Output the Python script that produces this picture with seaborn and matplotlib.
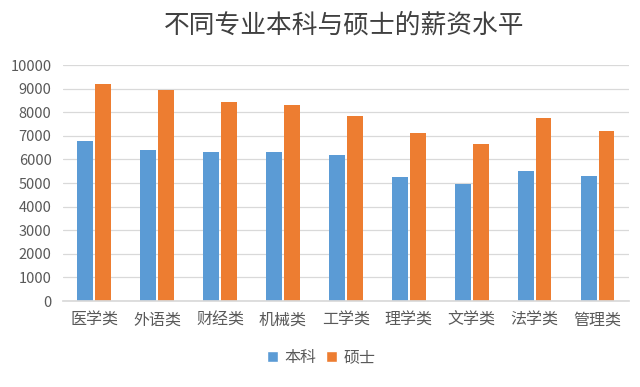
import matplotlib
matplotlib.use('Agg')
import matplotlib.pyplot as plt
import seaborn as sns
import pandas as pd
from matplotlib.patches import Patch

# data
majors = ['医学类', '外语类', '财经类', '机械类', '工学类', '理学类', '文学类', '法学类', '管理类']
bachelor = [6800, 6380, 6300, 6300, 6200, 5250, 4970, 5520, 5300]
master = [9200, 8950, 8420, 8320, 7860, 7120, 6670, 7750, 7190]
series = ['本科', '硕士']
colors = ['#5B9BD5', '#ED7D31']

df = pd.DataFrame({
    'major': majors * 2,
    'salary': bachelor + master,
    'degree': [series[0]] * len(majors) + [series[1]] * len(majors),
})

sns.set_theme(style='white')
plt.rcParams['font.family'] = ['Noto Sans CJK SC', 'DejaVu Sans']
text_color = '#595959'

fig = plt.figure(figsize=(6.4, 3.87), dpi=100)
ax = fig.add_axes([0.098, 0.222, 0.885, 0.61])

sns.barplot(data=df, x='major', y='salary', hue='degree', palette=colors,
            width=0.56, gap=0.1, saturation=1, linewidth=0, legend=False, ax=ax)

ax.set_ylim(0, 10000)
ax.set_yticks(range(0, 10001, 1000))
ax.grid(axis='y', color='#D9D9D9', linewidth=0.9)
ax.set_axisbelow(True)
for s in ['top', 'right', 'left']:
    ax.spines[s].set_visible(False)
ax.spines['bottom'].set_color('#D9D9D9')
ax.set_xlabel('')
ax.set_ylabel('')
ax.tick_params(axis='y', labelsize=10.5, colors=text_color, length=0, pad=8)
ax.tick_params(axis='x', labelsize=11.5, colors=text_color, length=0, pad=8)

fig.text(0.537, 0.935, '不同专业本科与硕士的薪资水平', ha='center', va='center',
         fontsize=18.5, color='#404040')

handles = [Patch(facecolor=c, label=l) for c, l in zip(colors, series)]
fig.legend(handles=handles, loc='center', bbox_to_anchor=(0.502, 0.077), ncol=2,
           frameon=False, fontsize=11.5, handlelength=0.7, handleheight=0.7,
           handletextpad=0.4, columnspacing=0.6, labelcolor=text_color)

fig.savefig('out.png', dpi=100)
